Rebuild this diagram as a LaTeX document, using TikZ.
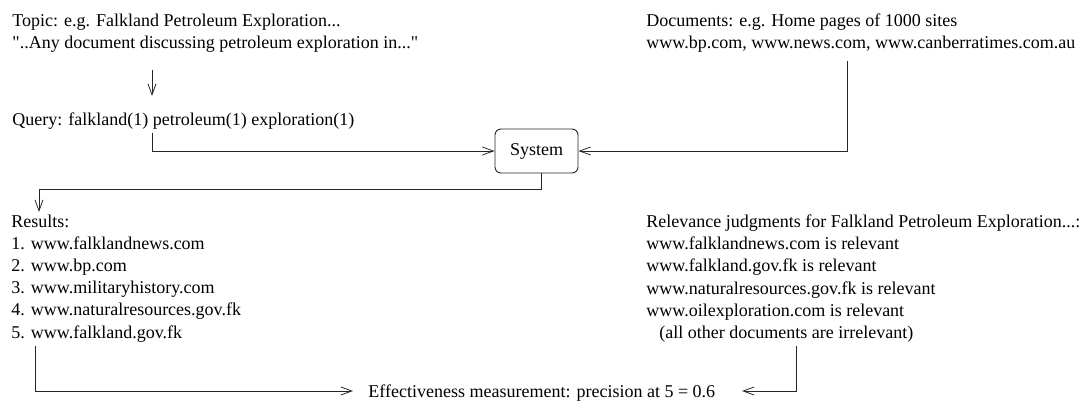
\documentclass[tikz,border=0pt]{standalone}
\usepackage{fontspec}
\setmainfont{Liberation Serif}[Ligatures=TeXOff]
\usetikzlibrary{arrows.meta}
\begin{document}
\begin{tikzpicture}[x=1pt,y=-1pt,
  line width=0.9pt,
  every node/.style={inner sep=0pt, font=\fontsize{18}{22.2}\selectfont},
  txt/.style={anchor=base west, align=left},
  arr/.style={draw=black!85, -{Straight Barb[length=11pt,width=8pt,line width=0.8pt]}},
  sysbox/.style={draw=black!85, rounded corners=6pt, minimum width=83pt, minimum height=44pt}]
\useasboundingbox (0,0) rectangle (1079,403);

% text blocks (each anchored at the baseline of its last line)
\node[txt] (topic) at (12,49) {Topic: e.g. Falkland Petroleum Exploration...\\"..Any document discussing petroleum exploration in..."};
\node[txt] (query) at (12,126) {Query: falkland(1) petroleum(1) exploration(1)};
\node[txt] (docs) at (646,49) {Documents: e.g. Home pages of 1000 sites\\www.bp.com, www.news.com, www.canberratimes.com.au};
\node[sysbox] (sys) at (536.5,151) {System};
\node[txt] (res) at (11,338) {Results:\\1. www.falklandnews.com\\2. www.bp.com\\3. www.militaryhistory.com\\4. www.naturalresources.gov.fk\\5. www.falkland.gov.fk};
\node[txt] (rel) at (646,338.5) {Relevance judgments for Falkland Petroleum Exploration...:\\www.falklandnews.com is relevant\\www.falkland.gov.fk is relevant\\www.naturalresources.gov.fk is relevant\\www.oilexploration.com is relevant\\\hspace*{13pt}(all other documents are irrelevant)};
\node[txt] (eff) at (368,397) {Effectiveness measurement: precision at 5 = 0.6};

% connector end points
\coordinate (tdrop) at (152,70);
\coordinate (qtop) at (152,96);
\coordinate (qdrop) at (152,133);
\coordinate (ddrop) at (847,61);
\coordinate (sdrop) at (541,173);
\coordinate (rtop) at (39,212);
\coordinate (rdrop) at (35,346);
\coordinate (jdrop) at (796,346);
\coordinate (effin) at (353,391);
\coordinate (effout) at (742,391);

% connectors
\draw[arr] (tdrop) -- (qtop);
\draw[arr] (qdrop) |- (sys.west);
\draw[arr] (ddrop) |- (sys.east);
\draw[arr] (sdrop) -- ++(0,16) -| (rtop);
\draw[arr] (rdrop) |- (effin);
\draw[arr] (jdrop) |- (effout);
\end{tikzpicture}
\end{document}
